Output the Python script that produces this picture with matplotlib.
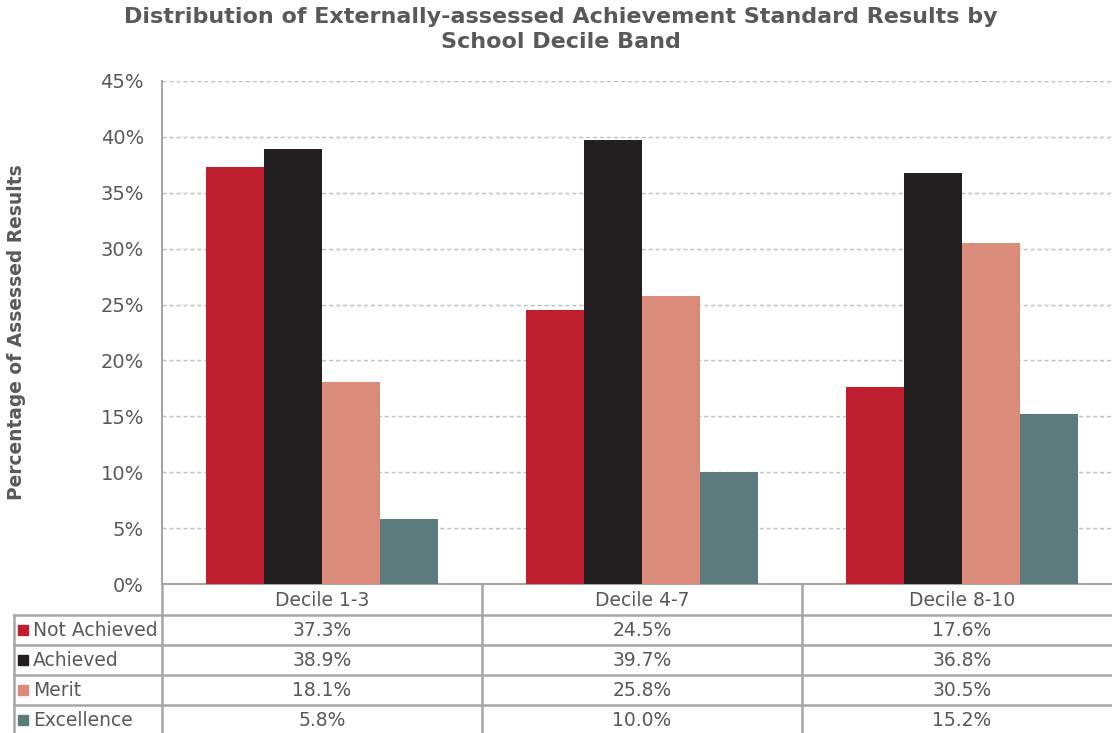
import matplotlib
matplotlib.use("Agg")
import matplotlib.pyplot as plt
import matplotlib.transforms as mtransforms
from matplotlib.lines import Line2D
from matplotlib.patches import Rectangle
import numpy as np

bands = ["Decile 1-3", "Decile 4-7", "Decile 8-10"]
series = ["Not Achieved", "Achieved", "Merit", "Excellence"]
not_achieved = [37.3, 24.5, 17.6]
achieved = [38.9, 39.7, 36.8]
merit = [18.1, 25.8, 30.5]
excellence = [5.8, 10.0, 15.2]
colors = ["#BE1E2D", "#231F20", "#DA8B7A", "#5B7B7C"]

values = [not_achieved, achieved, merit, excellence]

W, H = 1112, 733
fig = plt.figure(figsize=(W / 100, H / 100), dpi=100)
plt.rcParams['font.family'] = ['DejaVu Sans']
txt = "#595959"
lc = "#A6A6A6"

# plot area runs a little past the right edge of the picture
ax = fig.add_axes([162 / W, 1 - 584 / H, 960 / W, (584 - 81) / H])

bw = 58 / 320
x = np.arange(len(bands)) + 0.5
for i, (vals, c) in enumerate(zip(values, colors)):
    ax.bar(x + (i - 1.5) * bw, vals, width=bw, color=c, zorder=3)

ax.set_xlim(0, 3)
ax.set_ylim(0, 45)
ax.set_yticks(range(0, 46, 5))
ax.set_yticklabels([f"{v}%" for v in range(0, 46, 5)], fontsize=14, color=txt)
ax.set_xticks([])
ax.yaxis.grid(True, linestyle=(0, (3, 2)), color="#BFBFBF", linewidth=1, zorder=0)
ax.tick_params(axis="y", length=0, pad=13)
for s in ["top", "right"]:
    ax.spines[s].set_visible(False)
ax.spines["left"].set_color(lc)
ax.spines["left"].set_linewidth(1.5)
ax.spines["bottom"].set_color(lc)
ax.spines["bottom"].set_linewidth(1.5)

ax.set_ylabel("Percentage of Assessed Results", fontsize=13.4, fontweight="bold",
              color=txt)
ax.yaxis.set_label_coords(-136 / 960, 0.5)

fig.suptitle("Distribution of Externally-assessed Achievement Standard Results by\nSchool Decile Band",
             fontsize=16, fontweight="bold", color=txt, x=561 / W, y=1 - 7 / H,
             va="top", linespacing=1.3)

# data table under the axes
tr = mtransforms.blended_transform_factory(ax.transData, fig.transFigure)
def fy(py):
    return 1 - py / H

row_tops = [585, 615, 645, 675, 705, 735]
lkw = dict(color=lc, linewidth=1.8, clip_on=False)
for py in row_tops[1:5]:
    fig.add_artist(Line2D([14 / W, 1], [fy(py)] * 2, transform=fig.transFigure, **lkw))
for xv in [0, 1, 2]:
    fig.add_artist(Line2D([xv, xv], [fy(584), fy(735)], transform=tr, **lkw))
fig.add_artist(Line2D([14 / W] * 2, [fy(615), fy(735)], transform=fig.transFigure, **lkw))

for j, b in enumerate(bands):
    fig.text(x[j], fy(600), b, transform=tr, ha="center", va="center",
             fontsize=13.5, color=txt)
for i, (name, vals, c) in enumerate(zip(series, values, colors)):
    yc = fy((row_tops[i + 1] + row_tops[i + 2]) / 2)
    fig.add_artist(Rectangle((18 / W, yc - 5 / H), 10 / W, 10 / H,
                             transform=fig.transFigure, color=c))
    fig.text(33 / W, yc, name, ha="left", va="center", fontsize=13.5, color=txt)
    for j, v in enumerate(vals):
        fig.text(x[j], yc, f"{v:.1f}%", transform=tr, ha="center", va="center",
                 fontsize=13.5, color=txt)

fig.savefig("out.png", dpi=100)
